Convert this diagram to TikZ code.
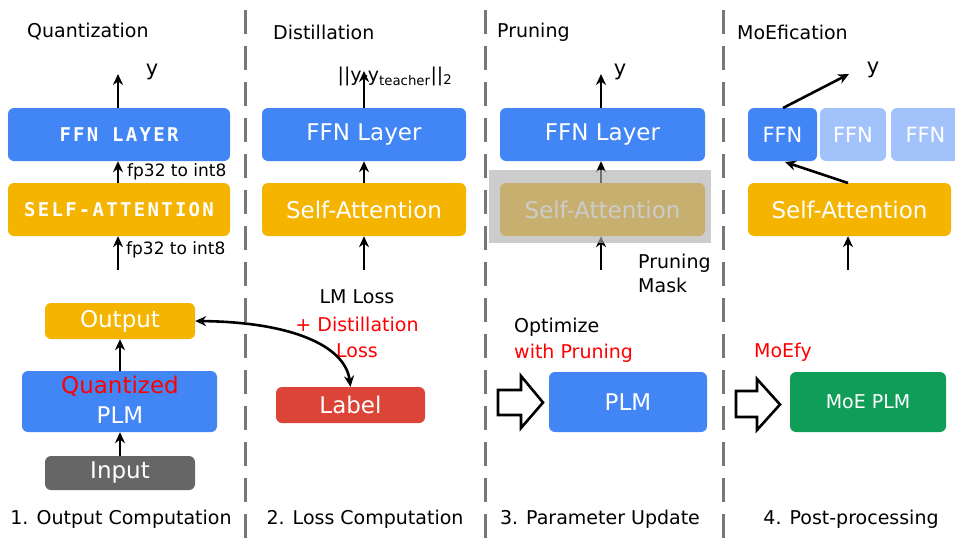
\documentclass[tikz,border=0pt]{standalone}
\usepackage{fontspec}
\setmainfont{DejaVu Sans}
\newfontfamily\pixfont{DejaVu Sans Mono}[LetterSpace=12]
\usetikzlibrary{arrows.meta}
\definecolor{gblue}{HTML}{4285F4}
\definecolor{gorange}{HTML}{F4B400}
\definecolor{gred}{HTML}{DB4437}
\definecolor{ggreen}{HTML}{0F9D58}
\definecolor{ggray}{HTML}{666666}
\definecolor{lblue}{HTML}{A1C2FA}
\definecolor{sepgray}{HTML}{777777}
\definecolor{maskgray}{HTML}{AFAFAF}
\definecolor{txtred}{HTML}{FF0000}
\tikzset{
  x=1pt, y=-1pt,
  blk/.style={rounded corners=6pt, inner sep=0pt, text=white, font=\fontsize{23}{25}\selectfont},
  pix/.style={font=\pixfont\bfseries\fontsize{19}{21}\selectfont},
  lbl/.style={inner sep=0pt, font=\fontsize{19}{22}\selectfont},
  small/.style={inner sep=0pt, font=\fontsize{17}{20}\selectfont},
  flow/.style={line width=2.6pt, -{Stealth[length=11pt,width=10pt]}},
  sep/.style={sepgray, line width=3pt, dash pattern=on 24pt off 12pt},
  hollow/.style={draw=black, fill=white, line width=2.6pt, line join=miter}
}
\begin{document}
\begin{tikzpicture}
\useasboundingbox (0,0) rectangle (955,549);

% column separators
\draw[sep] (245,10) -- (245,549);
\draw[sep] (485,10) -- (485,549);
\draw[sep] (723,10) -- (723,549);

% ---------- 1. Quantization ----------
\node[lbl, anchor=west] (t1) at (27,32) {Quantization};
\node[blk, fill=gblue, minimum width=222pt, minimum height=53pt, pix] (qffn) at (119,134.5) {FFN LAYER};
\node[blk, fill=gorange, minimum width=222pt, minimum height=53pt, pix] (qsa) at (119,209.5) {SELF-ATTENTION};
\coordinate (qy) at (118,74);
\coordinate (qin) at (118,270);
\node[lbl, font=\fontsize{21}{24}\selectfont] (qylab) at (152,72) {y};
\draw[flow] (qffn.north -| qy) -- (qy);
\draw[flow] (qsa.north -| qy) -- (qffn.south -| qy);
\draw[flow] (qin) -- (qsa.south -| qin);
\node[small, anchor=west] (fp1) at (127,172) {fp32 to int8};
\node[small, anchor=west] (fp2) at (126,250) {fp32 to int8};

\node[blk, fill=gorange, minimum width=150pt, minimum height=36pt] (qout) at (120,321) {Output};
\node[blk, fill=gblue, minimum width=195pt, minimum height=61pt] (qplm) at (119.5,401.5) {};
\node[inner sep=0pt, text=txtred, font=\fontsize{23}{25}\selectfont] (qq) at (120,386) {Quantized};
\node[inner sep=0pt, text=white, font=\fontsize{23}{25}\selectfont] (qp) at (120,415) {PLM};
\node[blk, fill=ggray, minimum width=150pt, minimum height=34pt] (qinput) at (120,473) {Input};
\draw[flow] (qplm.north -| qout) -- (qout.south);
\draw[flow] (qinput.north) -- (qplm.south -| qinput);
\node[lbl] (s1) at (121,519) {1. Output Computation};

% ---------- 2. Distillation ----------
\node[lbl, anchor=west] (t2) at (273,32) {Distillation};
\node[blk, fill=gblue, minimum width=204pt, minimum height=53pt] (dffn) at (364,134.5) {FFN Layer};
\node[blk, fill=gorange, minimum width=204pt, minimum height=53pt] (dsa) at (364,209.5) {Self-Attention};
\coordinate (dy) at (364,71);
\coordinate (din) at (364,270);
\node[lbl] (dylab) at (395,76) {||y-y\textsubscript{teacher}||\textsubscript{2}};
\draw[flow] (dffn.north) -- (dy);
\draw[flow] (dsa.north) -- (dffn.south);
\draw[flow] (din) -- (dsa.south);
\node[lbl] (lm1) at (357,297) {LM Loss};
\node[lbl, text=txtred] (lm2) at (357,324) {+ Distillation};
\node[lbl, text=txtred] (lm3) at (357,351) {Loss};
\node[blk, fill=gred, minimum width=149pt, minimum height=36pt] (dlabel) at (350.5,405) {Label};
\draw[line width=2.6pt, {Stealth[length=11pt,width=10pt]}-{Stealth[length=11pt,width=10pt]}]
  (qout.east) .. controls (290,322) and (345,345) .. (dlabel.north);
\node[lbl] (s2) at (365,519) {2. Loss Computation};

% ---------- 3. Pruning ----------
\node[lbl, anchor=west] (t3) at (497,32) {Pruning};
\node[blk, fill=gblue, minimum width=205pt, minimum height=53pt] (pffn) at (602.5,134.5) {FFN Layer};
\node[blk, fill=gorange, minimum width=205pt, minimum height=53pt] (psa) at (602.5,209.5) {Self-Attention};
\coordinate (py) at (601,74);
\coordinate (pin) at (601,270);
\node[lbl, font=\fontsize{21}{24}\selectfont] (pylab) at (620,72) {y};
\draw[flow] (pffn.north -| py) -- (py);
\draw[flow] (psa.north -| py) -- (pffn.south -| py);
\draw[flow] (pin) -- (psa.south -| pin);
\fill[maskgray, opacity=0.64] (489,170) rectangle (711,243);
\node[lbl, anchor=west, align=left] (pmask) at (638,273) {Pruning\\[2pt]Mask};
\node[lbl, anchor=west] (opt1) at (514,327) {Optimize};
\node[lbl, anchor=west, text=txtred] (opt2) at (514,353) {with Pruning};
\draw[hollow] (498,390) -- (521,390) -- (521,376) -- (543,402.5) -- (521,428) -- (521,415) -- (498,415) -- cycle;
\node[blk, fill=gblue, minimum width=158pt, minimum height=60pt] (pplm) at (628,402) {PLM};
\node[lbl] (s3) at (600,519) {3. Parameter Update};

% ---------- 4. MoEfication ----------
\node[lbl, anchor=west] (t4) at (737,32) {MoEfication};
\node[blk, fill=lblue, minimum width=66pt, minimum height=53pt, font=\fontsize{21}{24}\selectfont] (mffn2) at (853,134.5) {FFN};
\node[blk, fill=lblue, minimum width=69pt, minimum height=53pt, font=\fontsize{21}{24}\selectfont] (mffn3) at (925.5,134.5) {FFN};
\node[blk, fill=gblue, minimum width=69pt, minimum height=53pt, font=\fontsize{21}{24}\selectfont] (mffn1) at (782.5,134.5) {FFN};
\node[blk, fill=gorange, minimum width=203pt, minimum height=53pt] (msa) at (849.5,209.5) {Self-Attention};
\coordinate (my) at (849,74);
\coordinate (min) at (848,270);
\coordinate (mfb) at (785,162);
\coordinate (mft) at (783,108);
\coordinate (msat) at (848,183);
\node[lbl, font=\fontsize{21}{24}\selectfont] (mylab) at (873,70) {y};
\draw[flow] (mft) -- (my);
\draw[flow] (msat) -- (mfb);
\draw[flow] (min) -- (msa.south -| min);
\node[lbl, anchor=west, text=txtred] (moefy) at (754,352) {MoEfy};
\draw[hollow] (736,391) -- (757,391) -- (757,379) -- (780,404.5) -- (757,430) -- (757,417) -- (736,417) -- cycle;
\node[blk, fill=ggreen, minimum width=156pt, minimum height=60pt, font=\fontsize{19}{22}\selectfont] (mplm) at (868,402) {MoE PLM};
\node[lbl] (s4) at (851,519) {4. Post-processing};
\end{tikzpicture}
\end{document}
